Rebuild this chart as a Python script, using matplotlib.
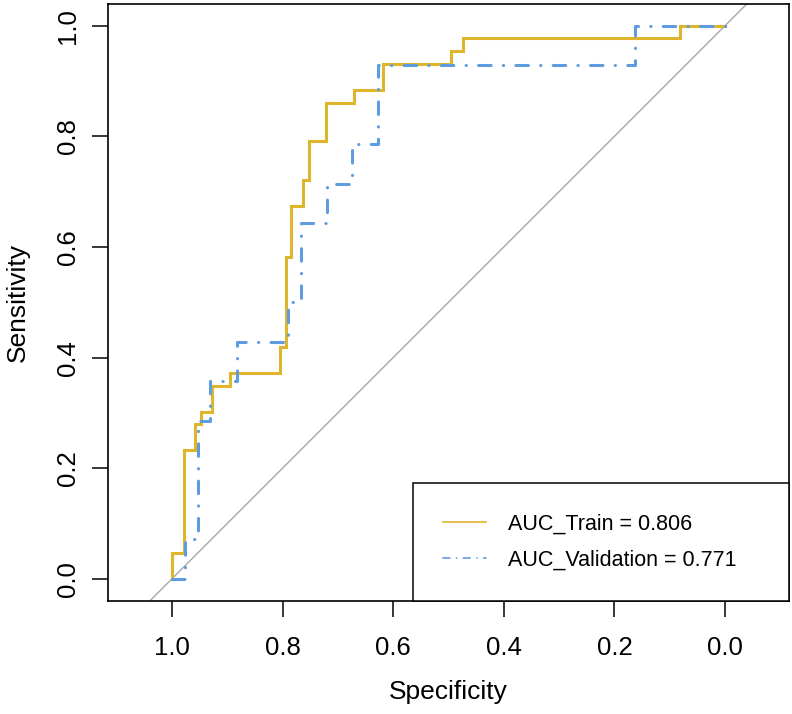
import matplotlib
matplotlib.use("Agg")
import matplotlib.pyplot as plt
import numpy as np

# ---- data (ROC step coordinates) ----
train_spec = [1.0, 1.0, 0.978, 0.958, 0.948, 0.927, 0.895, 0.804, 0.794, 0.784,
              0.763, 0.752, 0.722, 0.670, 0.618, 0.495, 0.474, 0.082, 0.0]
train_tp = [0, 2, 10, 12, 13, 15, 16, 18, 25, 29, 31, 34, 37, 38, 40, 41, 42, 43, 43]
train_npos = 43

valid_spec = [1.0, 0.977, 0.953, 0.931, 0.883, 0.790, 0.767, 0.720, 0.674,
              0.628, 0.163, 0.0]
valid_tp = [0, 1, 4, 5, 6, 7, 9, 10, 11, 13, 14, 14]
valid_npos = 14

auc_train = 0.806
auc_valid = 0.771
ticks = [1.0, 0.8, 0.6, 0.4, 0.2, 0.0]
tick_labels = ["1.0", "0.8", "0.6", "0.4", "0.2", "0.0"]

train_sens = np.array(train_tp) / train_npos
valid_sens = np.array(valid_tp) / valid_npos

plt.rcParams['font.family'] = ['Liberation Sans', 'DejaVu Sans']

W, H = 792, 714
fig = plt.figure(figsize=(W / 100, H / 100), dpi=100)
left, right, top, bottom = 108, 789, 3.5, 601
ax = fig.add_axes([left / W, (H - bottom) / H, (right - left) / W, (bottom - top) / H])

gold = "#DFB52C"
blue = "#5E9CDF"

ax.axline((1, 0), slope=-1, color="#A9A9A9", lw=1.0, zorder=1)
ax.plot(train_spec, train_sens, drawstyle="steps-post", color=gold, lw=2.2,
        solid_joinstyle="miter", label=f"AUC_Train = {auc_train:.3f}", zorder=2)
ax.plot(valid_spec, valid_sens, drawstyle="steps-post", color=blue, lw=2.2,
        ls=(0, (4.1, 4.0, 0.1, 4.0)), dash_capstyle="round",
        label=f"AUC_Validation = {auc_valid:.3f}", zorder=3)

# aspect 1 ranges (R style 4% extension on y)
ppu = (bottom - top) / 1.08
xw = (right - left) / ppu
a = (xw - 1) / 2
ax.set_xlim(1 + a, -a)
ax.set_ylim(-0.04, 1.04)

ax.set_xticks(ticks)
ax.set_xticklabels(tick_labels)
ax.set_yticks(ticks)
ax.set_yticklabels(tick_labels, rotation=90, va="center")
ax.tick_params(axis="both", length=11.5, width=1.1, labelsize=18.5,
               color="black", labelcolor="black")
ax.tick_params(axis="x", pad=14)
ax.tick_params(axis="y", pad=9)
for s in ax.spines.values():
    s.set_linewidth(1.2)
    s.set_color("black")

ax.set_xlabel("Specificity", fontsize=19, va="center")
ax.set_ylabel("Sensitivity", fontsize=19, va="center")
ax.xaxis.set_label_coords(0.5, (bottom - 692) / (bottom - top))
ax.yaxis.set_label_coords((18 - left) / (right - left), 0.5)

# legend anchored to bottom right, left edge at x = 413 px
lx = (413 - left) / (right - left)
leg = ax.legend(loc="lower left", bbox_to_anchor=(lx, 0, 1 - lx, 0.2), mode="expand",
                borderaxespad=0, fancybox=False, edgecolor="black", framealpha=1,
                fontsize=15.5, handlelength=2.0, handletextpad=1.0, borderpad=1.4,
                labelspacing=0.72)
leg.get_frame().set_linewidth(1.1)
for h in leg.get_lines():
    h.set_linewidth(1.2)

fig.savefig("out.png", dpi=100)
